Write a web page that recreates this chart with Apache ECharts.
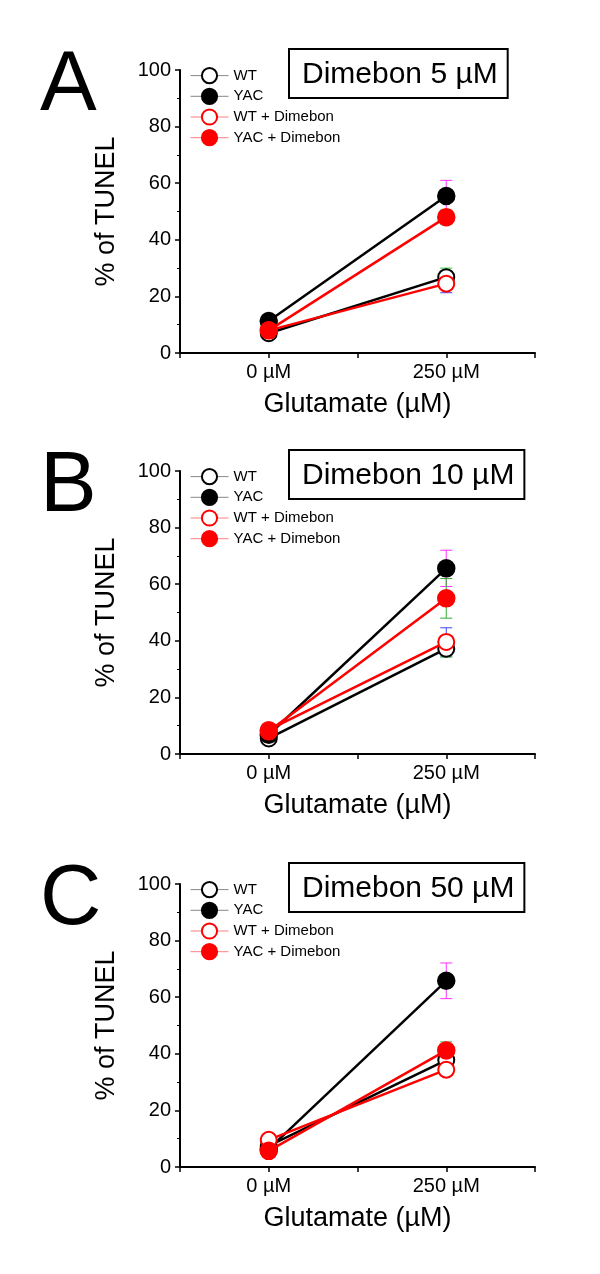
<!DOCTYPE html>
<html>
<head>
<meta charset="utf-8">
<script src="https://cdn.jsdelivr.net/npm/echarts@6/dist/echarts.min.js"></script>
<style>
html,body{margin:0;padding:0;background:#fff;}
#chart{width:600px;height:1274px;}
</style>
</head>
<body>
<div id="chart"></div>
<script>
// ---- data ----
const xCategories = ['', '0 µM', ' ', '250 µM', '  '];
const groups = ['0 µM', '250 µM'];
const seriesNames = ['WT', 'YAC', 'WT + Dimebon', 'YAC + Dimebon'];
const panelLetters = ['A', 'B', 'C'];
const panelTitles = ['Dimebon 5 µM', 'Dimebon 10 µM', 'Dimebon 50 µM'];
const yTickValues = [0, 20, 40, 60, 80, 100];

// Panel A (Dimebon 5 µM)
const A_WT = [7, 26.8];
const A_YAC = [11.3, 55.5];
const A_WTD = [8, 24.5];
const A_YACD = [8, 48];
const A_WT_err = [1, 3.2];
const A_YAC_err = [2, 5.5];
const A_WTD_err = [1, 3.2];
const A_YACD_err = [1, 2.5];

// Panel B (Dimebon 10 µM)
const B_WT = [5.5, 37.2];
const B_YAC = [6.8, 65.6];
const B_WTD = [8.5, 39.6];
const B_YACD = [8, 55];
const B_WT_err = [1, 3];
const B_YAC_err = [1, 6.4];
const B_WTD_err = [1, 5];
const B_YACD_err = [1, 7];

// Panel C (Dimebon 50 µM)
const C_WT = [7.5, 37.8];
const C_YAC = [6.3, 65.8];
const C_WTD = [9.6, 34.4];
const C_YACD = [5.7, 41.2];
const C_WT_err = [1, 3];
const C_YAC_err = [1, 6.3];
const C_WTD_err = [1, 2];
const C_YACD_err = [1, 3];

const panelValues = [
  [A_WT, A_YAC, A_WTD, A_YACD],
  [B_WT, B_YAC, B_WTD, B_YACD],
  [C_WT, C_YAC, C_WTD, C_YACD]
];
const panelErrors = [
  [A_WT_err, A_YAC_err, A_WTD_err, A_YACD_err],
  [B_WT_err, B_YAC_err, B_WTD_err, B_YACD_err],
  [C_WT_err, C_YAC_err, C_WTD_err, C_YACD_err]
];

// ---- styles ----
const FONT = '"Liberation Sans", Arial, Helvetica, sans-serif';
const lineColors = ['#000000', '#000000', '#ff0000', '#ff0000'];
const symbols = ['emptyCircle', 'circle', 'emptyCircle', 'circle'];
const errColors = ['#33cc33', '#ff33ff', '#4444ff', '#33aa33'];
const legendLineColors = ['#888888', '#888888', '#ff8080', '#ff8080'];
const gridTops = [70, 471, 884];
const gridH = 283;
const gridLeft = 180;
const gridW = 355;

const chart = echarts.init(document.getElementById('chart'), null, {renderer: 'canvas'});

const grids = [], xAxes = [], yAxes = [], series = [], legends = [], graphics = [];

gridTops.forEach((top, p) => {
  grids.push({left: gridLeft, top: top, width: gridW, height: gridH});
  xAxes.push({
    type: 'category', gridIndex: p, data: xCategories, boundaryGap: false,
    name: 'Glutamate (µM)', nameLocation: 'middle', nameGap: 38,
    nameTextStyle: {fontFamily: FONT, fontSize: 27, color: '#000'},
    axisLine: {lineStyle: {color: '#000', width: 2}},
    axisTick: {show: true, length: 5, interval: 0, lineStyle: {color: '#000', width: 1.5}},
    axisLabel: {interval: 0, fontFamily: FONT, fontSize: 20, color: '#000', margin: 9},
    splitLine: {show: false}
  });
  yAxes.push({
    type: 'value', gridIndex: p, min: 0, max: 100, interval: 20,
    name: '% of TUNEL', nameLocation: 'middle', nameGap: 60, nameRotate: 90,
    nameTextStyle: {fontFamily: FONT, fontSize: 27, color: '#000'},
    axisLine: {show: true, lineStyle: {color: '#000', width: 2}},
    axisTick: {show: true, length: 5, lineStyle: {color: '#000', width: 1.5}},
    minorTick: {show: true, splitNumber: 2, length: 3, lineStyle: {color: '#000', width: 1}},
    axisLabel: {fontFamily: FONT, fontSize: 20, color: '#000', margin: 9,
      formatter: v => yTickValues.indexOf(v) >= 0 ? String(v) : ''},
    splitLine: {show: false}
  });

  seriesNames.forEach((name, s) => {
    const vals = panelValues[p][s];
    const errs = panelErrors[p][s];
    // error bars
    series.push({
      type: 'custom', name: name + ' err', xAxisIndex: p, yAxisIndex: p, z: 1,
      silent: true, legendHoverLink: false,
      data: groups.map((g, i) => [g, vals[i], vals[i] - errs[i], vals[i] + errs[i]]),
      encode: {x: 0, y: [1, 2, 3]},
      renderItem: (params, api) => {
        const x = api.value(0);
        const lo = api.coord([x, api.value(2)]);
        const hi = api.coord([x, api.value(3)]);
        const hw = 6;
        const st = {stroke: errColors[s], lineWidth: 1};
        return {type: 'group', children: [
          {type: 'line', shape: {x1: hi[0], y1: hi[1], x2: lo[0], y2: lo[1]}, style: st},
          {type: 'line', shape: {x1: hi[0] - hw, y1: hi[1], x2: hi[0] + hw, y2: hi[1]}, style: st},
          {type: 'line', shape: {x1: lo[0] - hw, y1: lo[1], x2: lo[0] + hw, y2: lo[1]}, style: st}
        ]};
      }
    });
    series.push({
      type: 'line', name: name, xAxisIndex: p, yAxisIndex: p, z: 2 + s,
      data: groups.map((g, i) => [g, vals[i]]),
      symbol: symbols[s], symbolSize: 16, showAllSymbol: true,
      lineStyle: {color: lineColors[s], width: 2.5},
      itemStyle: {color: lineColors[s], borderColor: lineColors[s], borderWidth: 2.5},
      emphasis: {disabled: true},
      animation: false
    });
  });

  legends.push({
    top: top - 3, left: 190, orient: 'vertical', itemWidth: 38, itemHeight: 19, itemGap: 3.5,
    padding: 0, selectedMode: false,
    textStyle: {fontFamily: FONT, fontSize: 15, color: '#000'},
    data: seriesNames.map((n, s) => ({name: n, lineStyle: {color: legendLineColors[s], width: 1}}))
  });

  graphics.push({
    type: 'text', left: 40, top: top - 26,
    style: {text: panelLetters[p], font: '85px ' + FONT, fill: '#000'}
  });
  graphics.push({
    type: 'text', left: 288, top: top - 22,
    style: {text: panelTitles[p], font: '30px ' + FONT, fill: '#000',
      backgroundColor: '#fff', borderColor: '#000', borderWidth: 2,
      padding: [8, 9, 6, 12], lineHeight: 33}
  });
});

chart.setOption({
  animation: false,
  backgroundColor: '#fff',
  grid: grids, xAxis: xAxes, yAxis: yAxes, series: series, legend: legends,
  graphic: graphics
});
</script>
</body>
</html>
